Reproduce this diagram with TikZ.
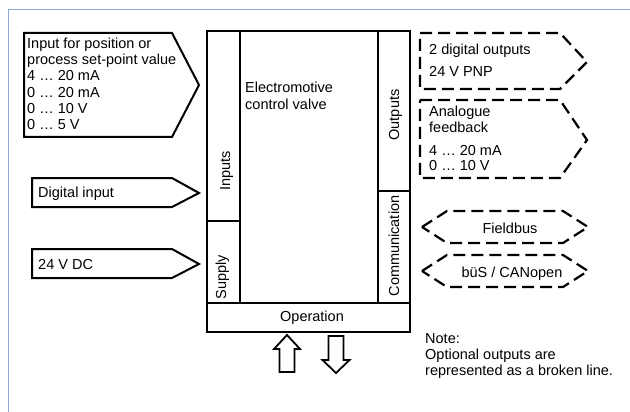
\documentclass[tikz,border=0pt]{standalone}
\usepackage{fontspec}
\setmainfont{Liberation Sans}
\definecolor{framecol}{RGB}{140,170,215}

\begin{document}
\begin{tikzpicture}[
    x=1pt, y=-1pt,
    box/.style={draw, line width=2pt},
    tag/.style={draw, line width=2pt, line join=miter},
    opt/.style={draw, line width=2.2pt, dash pattern=on 12pt off 6pt},
    hollow/.style={draw, line width=1.8pt, line join=miter},
    txt/.style={inner sep=0pt, anchor=base west, align=left, font=\fontsize{14.5}{16.4}\selectfont},
    side/.style={txt, anchor=base, rotate=90}
]
    \useasboundingbox (0,0) rectangle (630,412);
    % frame
    \draw[framecol, line width=0.9pt] (8,412) -- (8,9) -- (630,9);

    % valve block
    \draw[box] (207,31) rectangle (410,332);
    \draw[box] (207,303) -- (410,303);
    \draw[box] (240,31) -- (240,303);
    \draw[box] (207,221) -- (240,221);
    \draw[box] (378,31) -- (378,303);
    \draw[box] (378,191) -- (410,191);
    % (base of a multi-line text = its last line)
    \node[txt, font=\fontsize{14.5}{17}\selectfont] (valve) at (245,110) {Electromotive\\control valve};
    \node[side] (inputs) at (230,171) {Inputs};
    \node[side] (supply) at (226,277) {Supply};
    \node[side] (outputs) at (399,115) {Outputs};
    \node[side] (comm) at (399,246) {Communication};
    \node[txt, anchor=base] (operation) at (312,321) {Operation};

    % inputs
    \draw[tag] (24,33) -- (172,33) -- (199,85) -- (172,137) -- (24,137) -- cycle;
    \node[txt] (setpoint) at (27,130) {Input for position or\\process set-point value\\4 … 20 mA\\0 … 20 mA\\0 … 10 V\\0 … 5 V};
    \draw[tag] (32,178) -- (172,178) -- (199,193) -- (172,207) -- (32,207) -- cycle;
    \node[txt] (digin) at (38,197) {Digital input};
    \draw[tag] (32,249) -- (172,249) -- (199,264) -- (172,278) -- (32,278) -- cycle;
    \node[txt] (power) at (38,269) {24 V DC};

    % outputs (optional)
    \draw[opt] (420,33) -- (560,33) -- (587,62) -- (560,89) -- (420,89) -- cycle;
    \node[txt] (digout) at (429,77) {2 digital outputs\\[5.6pt]24 V PNP};
    \draw[opt] (420,100) -- (560,100) -- (587,140) -- (560,178) -- (420,178) -- cycle;
    \node[txt, font=\fontsize{14.5}{15.3}\selectfont] (feedback) at (429,171) {Analogue\\feedback\\[8.4pt]4 … 20 mA\\0 … 10 V};
    \draw[opt] (422,227) -- (447,211) -- (563,211) -- (588,227) -- (563,243) -- (447,243) -- cycle;
    \node[txt, anchor=base] (fieldbus) at (510,233) {Fieldbus};
    \draw[opt] (422,271) -- (447,255) -- (563,255) -- (588,271) -- (563,287) -- (447,287) -- cycle;
    \node[txt, anchor=base] (canopen) at (512,277) {büS / CANopen};

    % operation arrows
    \draw[hollow] (287,335) -- (300,349) -- (294.5,349) -- (294.5,372) -- (279.5,372) -- (279.5,349) -- (274,349) -- cycle;
    \draw[hollow] (328.5,336) -- (343.5,336) -- (343.5,360) -- (349.5,360) -- (336,373) -- (322.5,360) -- (328.5,360) -- cycle;

    % note
    \node[txt, font=\fontsize{14.5}{16}\selectfont] (note) at (425,375) {Note:\\Optional outputs are\\represented as a broken line.};
\end{tikzpicture}
\end{document}
